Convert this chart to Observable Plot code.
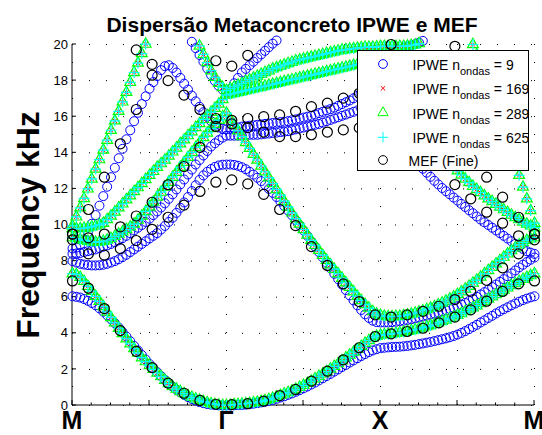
<!DOCTYPE html>
<html><head><meta charset="utf-8">
<script src="https://cdn.jsdelivr.net/npm/d3@7"></script>
<script src="https://cdn.jsdelivr.net/npm/@observablehq/plot@0.6"></script>
<style>
html,body{margin:0;padding:0;background:#fff;}
#chart svg{font-family:"Liberation Sans",Arial,Helvetica,sans-serif;display:block;}
</style></head><body><div id="chart"></div>
<script>
const gap = n => Array(n).fill(null);
// ---- text / ticks ----
const titleText = "Dispersão Metaconcreto IPWE e MEF";
const yLabelText = "Frequency kHz";
const xTickVals = [0, 2, 4, 6];
const xTickLabels = ["M", "Γ", "X", "M"];
const xGridVals = [0, 1, 2, 3, 4, 5, 6];
const yTickVals = [0, 2, 4, 6, 8, 10, 12, 14, 16, 18, 20];
const legendSeries = [
  {label: "IPWE n", sub: "ondas", tail: " = 9"},
  {label: "IPWE n", sub: "ondas", tail: " = 169"},
  {label: "IPWE n", sub: "ondas", tail: " = 289"},
  {label: "IPWE n", sub: "ondas", tail: " = 625"},
  {label: "MEF (Fine)", sub: "", tail: ""}
];

// ---- IPWE k path sampling (M=0, Γ=2, X=4, M=6), 121 points ----
const kIPWE = d3.range(121).map(i => i / 20);

// IPWE n=9 (blue)
const b1 = [6.05,6.02,5.98,5.9,5.8,5.68,5.55,5.38,5.2,5.0,4.78,4.56,4.32,4.07,3.82,3.56,3.3,3.05,2.8,2.55,2.3,2.07,1.85,1.63,1.42,1.23,1.05,0.88,0.73,0.59,0.47,0.36,0.27,0.19,0.13,0.08,0.05,0.03,0.01,0.0,0.0,
  0.0,0.01,0.02,0.03,0.05,0.07,0.1,0.13,0.17,0.21,0.26,0.31,0.37,0.44,0.51,0.59,0.67,0.76,0.85,0.95,1.05,1.16,1.27,1.39,1.51,1.63,1.75,1.88,2.0,2.13,2.25,2.38,2.5,2.62,2.74,2.85,2.96,3.05,3.12,3.18,
  3.2,3.22,3.24,3.25,3.26,3.28,3.3,3.33,3.36,3.4,3.44,3.48,3.52,3.57,3.62,3.67,3.72,3.78,3.85,3.93,4.02,4.12,4.23,4.35,4.47,4.6,4.72,4.85,4.97,5.1,5.22,5.33,5.44,5.55,5.65,5.75,5.84,5.92,5.99,6.05];
const b2 = [8.0,7.92,7.85,7.81,7.78,7.76,7.76,7.77,7.8,7.85,7.92,8.0,8.1,8.22,8.35,8.5,8.65,8.8,8.95,9.1,9.25,9.4,9.55,9.75,9.95,10.17,10.4,10.67,10.95,11.25,11.55,11.88,12.2,12.5,12.75,12.95,13.1,13.22,13.3,13.34,13.35,
  13.35,13.33,13.28,13.2,13.09,12.95,12.79,12.62,12.43,12.22,12.0,11.78,11.55,11.3,11.05,10.8,10.54,10.27,9.99,9.7,9.4,9.1,8.8,8.5,8.2,7.9,7.6,7.3,7.0,6.7,6.4,6.1,5.82,5.55,5.29,5.05,4.85,4.7,4.62,4.6,
  4.6,4.6,4.62,4.64,4.67,4.7,4.74,4.78,4.83,4.88,4.93,4.98,5.04,5.1,5.16,5.22,5.28,5.35,5.42,5.5,5.59,5.68,5.79,5.9,6.02,6.15,6.28,6.42,6.56,6.7,6.85,7.0,7.16,7.32,7.48,7.65,7.8,7.95,8.08,8.2];
const b3 = [8.4,8.42,8.45,8.5,8.55,8.6,8.65,8.72,8.8,8.87,8.95,9.05,9.15,9.27,9.4,9.55,9.7,9.85,10.0,10.17,10.35,10.55,10.75,10.97,11.2,11.45,11.7,11.97,12.25,12.52,12.8,13.07,13.35,13.6,13.85,14.1,14.35,14.53,14.7,14.84,14.95,
  14.95,14.95,14.95,14.95,14.97,15.0,15.0,15.0,15.02,15.05,15.07,15.1,15.12,15.15,15.17,15.2,15.25,15.3,15.35,15.4,15.45,15.5,15.55,15.6,15.67,15.75,15.82,15.9,15.97,16.05,16.12,16.2,16.27,16.35,16.45,16.55,16.65,16.75,16.82,16.9,
  16.8,16.6,16.3,16.0,15.6,15.2,14.75,14.3,13.85,13.4,13.12,12.9,12.67,12.45,12.25,12.05,11.87,11.7,11.52,11.35,11.17,11.0,10.82,10.65,10.47,10.3,10.15,10.0,9.85,9.7,9.55,9.4,9.25,9.1,8.95,8.8,8.67,8.55,8.47,8.4];
const b4 = [8.7,8.75,8.9,9.2,9.6,10.07,10.55,11.07,11.6,12.12,12.65,13.17,13.7,14.22,14.75,15.25,15.75,16.22,16.7,17.13,17.55,17.92,18.25,18.58,18.8,18.85,18.7,18.45,18.15,17.83,17.5,17.17,16.85,16.55,16.25,16.0,15.75,15.55,15.4,15.33,15.3,
  15.32,15.35,15.4,15.45,15.47,15.5,15.52,15.55,15.57,15.6,15.62,15.65,15.67,15.7,15.72,15.75,15.8,15.85,15.9,15.95,16.0,16.05,16.12,16.2,16.27,16.35,16.42,16.5,16.6,16.7,16.8,16.9,17.02,17.15,17.35,17.6,17.9,18.2,18.5,18.8,
  19.05,19.3,19.45,19.6,19.7,19.8,19.88,19.95,20.02,20.1,20.2, ...gap(29)];
const b5 = [...gap(29),20.85,20.5,20.15,19.8,19.42,19.05,18.67,18.3,17.98,17.7,17.5,17.4,
  17.55,17.85,18.15,18.45,18.65,18.85,19.05,19.25,19.45,19.65,19.85,20.05,20.22,20.4, ...gap(26),
  ...gap(40)];

// IPWE n=169 / 289 / 625 (converged: they coincide on the picture)
const g1 = [7.3,7.25,7.1,6.88,6.6,6.33,6.05,5.77,5.48,5.18,4.88,4.58,4.28,3.99,3.7,3.42,3.15,2.9,2.65,2.43,2.22,2.0,1.8,1.6,1.4,1.22,1.05,0.91,0.78,0.66,0.55,0.45,0.37,0.29,0.22,0.16,0.1,0.06,0.03,0.01,0.0,
  0.02,0.05,0.06,0.08,0.1,0.12,0.15,0.18,0.22,0.27,0.33,0.4,0.48,0.56,0.64,0.72,0.81,0.9,1.01,1.12,1.23,1.35,1.48,1.62,1.75,1.88,2.02,2.17,2.32,2.48,2.64,2.8,2.96,3.12,3.28,3.45,3.6,3.75,3.84,3.9,
  3.93,3.95,3.97,4.0,4.03,4.07,4.11,4.15,4.2,4.25,4.31,4.37,4.43,4.5,4.58,4.66,4.74,4.83,4.91,5.0,5.1,5.2,5.31,5.42,5.53,5.65,5.77,5.9,6.02,6.15,6.27,6.4,6.52,6.65,6.76,6.88,6.99,7.1,7.2,7.3];
const g2 = [9.3,9.25,9.2,9.15,9.1,9.07,9.05,9.07,9.1,9.17,9.25,9.37,9.5,9.62,9.75,9.9,10.05,10.27,10.5,10.75,11.0,11.27,11.55,11.82,12.1,12.37,12.65,12.92,13.2,13.47,13.75,14.02,14.3,14.57,14.85,15.1,15.35,15.58,15.8,16.0,16.2,
  15.87,15.55,15.22,14.9,14.57,14.25,13.92,13.6,13.27,12.95,12.62,12.3,11.97,11.65,11.32,11.0,10.67,10.35,10.05,9.75,9.45,9.15,8.87,8.6,8.32,8.05,7.8,7.55,7.3,7.05,6.8,6.55,6.3,6.05,5.82,5.6,5.4,5.2,5.07,5.0,
  4.95,4.92,4.92,4.93,4.95,4.98,5.02,5.07,5.12,5.18,5.25,5.32,5.4,5.48,5.58,5.68,5.79,5.9,6.02,6.15,6.3,6.45,6.61,6.78,6.95,7.12,7.3,7.48,7.66,7.85,8.03,8.22,8.4,8.58,8.74,8.9,9.03,9.15,9.23,9.3];
const g3 = [9.8,9.8,9.8,9.82,9.85,9.9,9.95,10.02,10.1,10.3,10.5,10.72,10.95,11.17,11.4,11.62,11.85,12.07,12.3,12.52,12.75,12.97,13.2,13.4,13.6,13.82,14.05,14.27,14.5,14.72,14.95,15.17,15.4,15.62,15.85,16.05,16.25,16.47,16.7,16.95,17.2,
  17.25,17.3,17.35,17.4,17.45,17.5,17.55,17.6,17.65,17.7,17.75,17.8,17.85,17.9,17.95,18.0,18.05,18.1,18.15,18.2,18.25,18.3,18.35,18.4,18.45,18.5,18.55,18.6,18.65,18.7,18.75,18.8,18.85,18.9,18.95,19.0,19.02,19.05,19.08,19.1,
  19.08,19.05,18.97,18.85,18.7,18.5,18.27,18.0,17.67,17.3,16.87,16.4,15.95,15.5,15.05,14.6,14.17,13.75,13.37,13.0,12.77,12.55,12.35,12.15,11.97,11.8,11.62,11.45,11.3,11.15,11.0,10.85,10.7,10.55,10.42,10.3,10.17,10.05,9.95,9.85];
const g4 = [9.95,10.45,10.95,11.47,12.0,12.55,13.1,13.62,14.15,14.7,15.25,15.77,16.3,16.82,17.35,17.9,18.45,18.97,19.5,20.02,20.55, ...gap(20),
  ...gap(80)];
const g5 = [...gap(31),20.9,20.4,19.92,19.45,19.0,18.55,18.18,17.85,17.62,17.45,
  17.55,17.65,17.75,17.85,17.95,18.05,18.15,18.25,18.35,18.45,18.55,18.65,18.72,18.8,18.87,18.95,19.02,19.1,19.15,19.2,19.25,19.3,19.35,19.4,19.45,19.5,19.55,19.6,19.65,19.7,19.72,19.75,19.77,19.8,19.82,19.85,19.85,19.85,19.87,19.9,
  19.9,19.9,19.9,19.9,19.9,19.9,19.92,19.95,19.98,20.05,20.3,20.6,20.9,21.2,21.5,21.8,22.0,22.0,22.0,22.0,21.8,21.2,20.6,20.0,19.45,18.9,18.3,17.7,17.1,16.5,15.9,15.3,14.7,14.05,13.4,12.75,12.1,11.45,10.8,10.1];

// MEF (Fine) – black circles, own k sampling
const kMEF = [0,0.207,0.414,0.621,0.828,1.034,1.241,1.448,1.655,1.862,2.069,2.276,2.483,2.69,2.897,
  3.103,3.31,3.517,3.724,3.931,4.138,4.345,4.552,4.759,4.966,5.172,5.379,5.586,5.793,6.0];
const m1 = [6.9,6.5,5.37,4.15,3.0,2.1,1.24,0.68,0.28,0.07,0.05,0.1,0.24,0.55,0.89,1.35,1.9,2.53,3.2,3.82,3.97,4.1,4.28,4.58,4.9,5.3,5.78,6.32,6.74,6.9];
const m2 = [9.18,8.4,8.33,8.69,9.14,9.76,10.43,11.1,11.86,12.37,12.5,12.28,11.7,10.86,9.97,8.8,7.76,6.74,5.76,5.02,4.9,5.02,5.22,5.5,5.87,6.33,6.93,7.63,8.4,9.18];
const m3 = [9.5,9.29,9.5,9.9,10.5,11.26,12.23,13.24,14.3,15.46,15.6,15.4,15.15,14.9,14.9,15.0,15.15,15.27,15.38,15.5,15.5,14.8,14.0,13.5,12.24,11.45,10.71,10.1,9.4,9.5];
const m4 = [9.5,10.86,12.65,14.5,16.4,18.3, ...gap(19),13.8,12.65,11.54,10.43,9.5];
const m5 = [...gap(4),19.7,18.9,18.0,17.2,16.4,15.9,15.8,15.9,16.0,16.1,16.3,16.56,16.75,17.03,17.3, ...gap(11)];
const m6 = [...gap(9),19.1,18.8,19.4, ...gap(8),20.0,null,null,null,19.9, ...gap(5)];

function rows(k, bands) {
  const out = [];
  bands.forEach(b => b.forEach((f, i) => { if (f != null && f <= 20.25) out.push({k: k[i], f}); }));
  return out;
}
const blueRows = rows(kIPWE, [b1, b2, b3, b4, b5]);
const convRows = rows(kIPWE, [g1, g2, g3, g4, g5]);
const mefRows = rows(kMEF, [m1, m2, m3, m4, m5, m6]);

const S = {
  blue: {stroke: "#0000ff", symbol: "circle", r: 4.5, sw: 1},
  red: {stroke: "#ff0000", symbol: "times", r: 2.1, sw: 1},
  green: {stroke: "#00ff00", symbol: "triangle", r: 4.0, sw: 1.2},
  cyan: {stroke: "#00ffff", symbol: "plus", r: 3.6, sw: 1.2},
  black: {stroke: "#000000", symbol: "circle", r: 5, sw: 1.2}
};
const dotOpts = s => ({x: "k", y: "f", symbol: s.symbol, r: s.r, stroke: s.stroke, fill: "none", strokeWidth: s.sw});

const plot = Plot.plot({
  width: 542, height: 435,
  marginLeft: 72, marginRight: 8, marginTop: 44, marginBottom: 30,
  style: {background: "#ffffff", overflow: "visible"},
  x: {domain: [0, 6], axis: null},
  y: {domain: [0, 20], axis: null},
  marks: [
    Plot.ruleX(xGridVals, {stroke: "#000", strokeWidth: 1, strokeDasharray: "1,17"}),
    Plot.ruleY(yTickVals, {stroke: "#000", strokeWidth: 1, strokeDasharray: "1,16"}),
    Plot.dot(blueRows, dotOpts(S.blue)),
    Plot.dot(convRows, dotOpts(S.red)),
    Plot.dot(convRows, dotOpts(S.green)),
    Plot.dot(convRows, dotOpts(S.cyan)),
    Plot.dot(mefRows, dotOpts(S.black))
  ]
});
document.getElementById("chart").appendChild(plot);

const svg = d3.select(plot);
const XS = plot.scale("x"), YS = plot.scale("y");
const sx = d3.scaleLinear().domain(XS.domain).range(XS.range);
const sy = d3.scaleLinear().domain(YS.domain).range(YS.range);
const x0 = sx(0), x1 = sx(6), y0 = sy(0), y1 = sy(20);

// axes (below the data, as in the reference)
const ax = svg.insert("g", ":first-child").attr("stroke", "#000").attr("fill", "none");
ax.append("line").attr("x1", x0).attr("x2", x0).attr("y1", y0).attr("y2", y1);
ax.append("line").attr("x1", x0).attr("x2", x1).attr("y1", y0).attr("y2", y0);
yTickVals.forEach(v => ax.append("line").attr("x1", x0).attr("x2", x0 + 4).attr("y1", sy(v)).attr("y2", sy(v)));
d3.range(0, 6.001, 0.25).forEach(v => {
  const major = Math.abs(v - Math.round(v)) < 1e-6;
  ax.append("line").attr("x1", sx(v)).attr("x2", sx(v)).attr("y1", y0).attr("y2", y0 - (major ? 5 : 2.5));
});

const tx = svg.append("g").attr("fill", "#000");
yTickVals.forEach(v => tx.append("text").attr("x", x0 - 4).attr("y", sy(v)).attr("dy", "0.36em")
  .attr("text-anchor", "end").attr("font-size", 13).text(v));
xTickVals.forEach((v, i) => tx.append("text").attr("x", sx(v)).attr("y", 429)
  .attr("text-anchor", "middle").attr("font-size", 25).attr("font-weight", "bold").text(xTickLabels[i]));
tx.append("text").attr("x", 292).attr("y", 32).attr("text-anchor", "middle")
  .attr("font-size", 21).attr("font-weight", "bold").text(titleText);
tx.append("text").attr("transform", "translate(39,225) rotate(-90)").attr("text-anchor", "middle")
  .attr("font-size", 32).attr("font-weight", "bold").text(yLabelText);

// legend (inside the axes, top right)
const lg = svg.append("g");
lg.append("rect").attr("x", 357.5).attr("y", 50.5).attr("width", 171).attr("height", 120)
  .attr("fill", "#fff").attr("stroke", "#000").attr("stroke-width", 1);
const symType = {circle: d3.symbolCircle, times: d3.symbolTimes, triangle: d3.symbolTriangle, plus: d3.symbolPlus};
const legStyles = [{...S.blue, r: 4.4}, S.red, {...S.green, r: 3.8, sw: 1}, {...S.cyan, r: 3.4, sw: 1}, {...S.black, r: 4.4, sw: 1}];
const rowY = [64, 88.3, 112.7, 137.3, 160];
legendSeries.forEach((d, i) => {
  const s = legStyles[i];
  lg.append("path").attr("transform", `translate(383,${rowY[i]})`)
    .attr("d", d3.symbol(symType[s.symbol], Math.PI * s.r * s.r)())
    .attr("fill", "none").attr("stroke", s.stroke).attr("stroke-width", s.sw);
  const t = lg.append("text").attr("x", d.sub ? 412.5 : 408.5).attr("y", rowY[i] + 6)
    .attr("text-anchor", "start").attr("font-size", 14).attr("fill", "#000");
  t.append("tspan").text(d.label);
  if (d.sub) {
    t.append("tspan").attr("font-size", 11).attr("dy", 5).text(d.sub);
    t.append("tspan").attr("dy", -5).text(d.tail);
  }
});
</script></body></html>
